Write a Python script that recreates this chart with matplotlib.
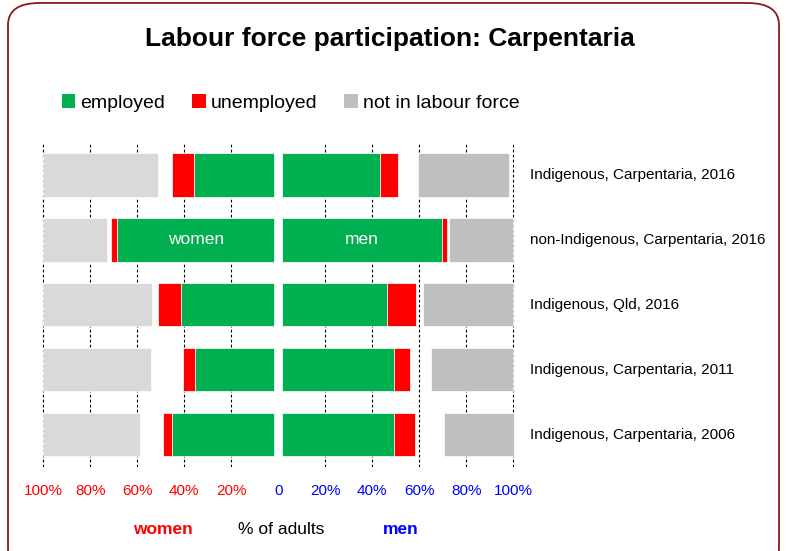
import matplotlib.pyplot as plt
from matplotlib.patches import Patch, FancyBboxPatch

plt.rcParams['font.family'] = ['Liberation Sans', 'DejaVu Sans']

groups = ['Indigenous, Carpentaria, 2016', 'non-Indigenous, Carpentaria, 2016',
          'Indigenous, Qld, 2016', 'Indigenous, Carpentaria, 2011',
          'Indigenous, Carpentaria, 2006']
women_employed = [34.0, 66.8, 39.7, 33.6, 43.4]
women_unemployed = [9.6, 2.8, 9.7, 5.4, 4.0]
women_nilf = [48.9, 27.2, 46.3, 45.7, 41.3]
men_employed = [41.4, 67.8, 44.6, 47.4, 47.7]
men_unemployed = [8.0, 2.3, 12.2, 6.8, 8.6]
men_nilf = [38.7, 27.5, 38.4, 35.0, 30.0]
men_total = [98.0, 100.0, 100.0, 100.0, 100.5]  # outer end of the men's bars

ticks = [-100, -80, -60, -40, -20, 0, 20, 40, 60, 80, 100]
tick_labels = ['100%', '80%', '60%', '40%', '20%', '0', '20%', '40%', '60%', '80%', '100%']

green = '#00B050'
red = '#FF0000'
grey_w = '#D9D9D9'
grey_m = '#BFBFBF'
gap = 1.7  # small space either side of the centre line

W, H = 786, 551
fig = plt.figure(figsize=(W / 100, H / 100), dpi=100)

# rounded border round the whole chart
border = FancyBboxPatch((8 / W, -20 / H), 771 / W, (H + 17) / H,
                        boxstyle='round,pad=0,rounding_size=0.04',
                        transform=fig.transFigure, facecolor='none',
                        edgecolor='#8B1A1A', linewidth=1.3)
fig.patches.append(border)

ax = fig.add_axes([40.95 / W, 1 - 467 / H, (515.65 - 40.95) / W, (467 - 142.7) / H])
y = list(range(len(groups)))

# women to the left
ax.barh(y, [-v for v in women_employed], left=-gap, height=0.667, color=green,
        edgecolor='white', linewidth=0.5, zorder=2)
ax.barh(y, [-v for v in women_unemployed],
        left=[-gap - e for e in women_employed], height=0.667, color=red,
        edgecolor='white', linewidth=0.5, zorder=2)
ax.barh(y, women_nilf, left=-100, height=0.667, color=grey_w,
        edgecolor='white', linewidth=0.5, zorder=2)

# men to the right
ax.barh(y, men_employed, left=gap, height=0.667, color=green,
        edgecolor='white', linewidth=0.5, zorder=2)
ax.barh(y, men_unemployed, left=[gap + e for e in men_employed], height=0.667,
        color=red, edgecolor='white', linewidth=0.5, zorder=2)
ax.barh(y, [-v for v in men_nilf], left=men_total, height=0.667, color=grey_m,
        edgecolor='white', linewidth=0.5, zorder=2)

for t in ticks:
    if t != 0:
        ax.axvline(t, color='black', linestyle=(0, (2.5, 2)), linewidth=0.8, zorder=0)

ax.set_xlim(-101, 101)
ax.set_ylim(len(groups) - 0.5, -0.5)
ax.set_xticks(ticks)
ax.set_xticklabels(tick_labels, fontsize=11)
for lab, t in zip(ax.get_xticklabels(), ticks):
    lab.set_color('red' if t < 0 else 'blue')
ax.tick_params(axis='x', length=0, pad=12.5)
ax.set_yticks([])
for s in ax.spines.values():
    s.set_visible(False)

for i, g in enumerate(groups):
    ax.text(107, i, g, va='center', ha='left', fontsize=11, clip_on=False)

ax.text(-(gap + women_employed[1] / 2), 1, 'women', color='white', fontsize=12.5,
        ha='center', va='center', zorder=3)
ax.text(gap + men_employed[1] / 2, 1, 'men', color='white', fontsize=12.5,
        ha='center', va='center', zorder=3)

fig.text(389.5 / W, 1 - 39 / H, 'Labour force participation: Carpentaria',
         ha='center', va='center', fontsize=19, fontweight='bold')

handles = [Patch(facecolor=green), Patch(facecolor=red), Patch(facecolor=grey_m)]
fig.legend(handles, ['employed', 'unemployed', 'not in labour force'],
           loc='center left', bbox_to_anchor=(44 / W, 1 - 103 / H), ncol=3,
           frameon=False, fontsize=14, handlelength=0.7, handleheight=0.7,
           handletextpad=0.25, columnspacing=1.4)

fig.text(163 / W, 1 - 530 / H, 'women', color='red', fontweight='bold',
         fontsize=12.5, ha='center', va='center')
fig.text(281 / W, 1 - 530 / H, '% of adults', color='black',
         fontsize=12.5, ha='center', va='center')
fig.text(401 / W, 1 - 530 / H, 'men', color='blue', fontweight='bold',
         fontsize=12.5, ha='center', va='center')

fig.savefig('out.png', dpi=100)
